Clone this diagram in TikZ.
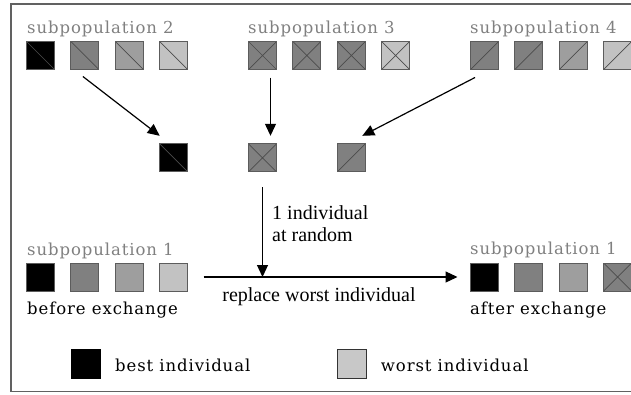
\documentclass[tikz,border=0pt]{standalone}
\usepackage{fontspec}
\setmainfont{Liberation Serif}
\newfontfamily\widefont[LetterSpace=5.5]{DejaVu Serif}
\usetikzlibrary{arrows.meta}

\definecolor{fitA}{gray}{0.0}
\definecolor{fitB}{gray}{0.50}
\definecolor{fitC}{gray}{0.62}
\definecolor{fitD}{gray}{0.76}
\definecolor{edgegray}{gray}{0.36}
\definecolor{diaggray}{gray}{0.30}
\definecolor{labelgray}{gray}{0.50}
\definecolor{framegray}{gray}{0.38}

\tikzset{
  indiv/.style={draw=edgegray, line width=1pt, minimum size=28pt, inner sep=0pt, outer sep=0pt},
  dback/.style={path picture={\draw[diaggray, line width=0.7pt]
      (path picture bounding box.north west) -- (path picture bounding box.south east);}},
  dfwd/.style={path picture={\draw[diaggray, line width=0.7pt]
      (path picture bounding box.south west) -- (path picture bounding box.north east);}},
  dcross/.style={path picture={\draw[diaggray, line width=0.7pt]
      (path picture bounding box.north west) -- (path picture bounding box.south east)
      (path picture bounding box.south west) -- (path picture bounding box.north east);}},
  poplabel/.style={anchor=base west, inner sep=0pt, text=labelgray, font=\widefont\fontsize{16.5pt}{20pt}\selectfont},
  txtlabel/.style={anchor=base west, inner sep=0pt, text=black, font=\widefont\fontsize{16.5pt}{20pt}\selectfont},
  midlabel/.style={anchor=base west, inner sep=0pt, text=black, font=\fontsize{20pt}{24pt}\selectfont},
  arr/.style={line width=1.2pt, -{Triangle[length=12pt,width=11pt]}},
  legbox/.style={line width=1pt, minimum size=29pt, inner sep=0pt, outer sep=0pt},
}

\begin{document}
\begin{tikzpicture}[x=1pt, y=-1pt]
\useasboundingbox (0,0) rectangle (631,394);
\clip (0,0) rectangle (631,394);

% outer frame (runs past the right edge)
\draw[framegray, line width=1.5pt] (650,4) -- (11,4) -- (11,391.5) -- (650,391.5);

% subpopulation 2
\node[poplabel] (t2) at (27,33.3) {subpopulation 2};
\node[indiv, fill=fitA, dback] (s2a) at (40.5,55.5) {};
\node[indiv, fill=fitB, dback] (s2b) at (84.9,55.5) {};
\node[indiv, fill=fitC, dback] (s2c) at (129.3,55.5) {};
\node[indiv, fill=fitD, dback] (s2d) at (173.7,55.5) {};

% subpopulation 3
\node[poplabel] (t3) at (248,33.3) {subpopulation 3};
\node[indiv, fill=fitB, dcross] (s3a) at (262.5,55.5) {};
\node[indiv, fill=fitB, dcross] (s3b) at (306.9,55.5) {};
\node[indiv, fill=fitB, dcross] (s3c) at (351.3,55.5) {};
\node[indiv, fill=fitD, dcross] (s3d) at (395.7,55.5) {};

% subpopulation 4
\node[poplabel] (t4) at (470,33.3) {subpopulation 4};
\node[indiv, fill=fitB, dfwd] (s4a) at (484.5,55.5) {};
\node[indiv, fill=fitB, dfwd] (s4b) at (528.9,55.5) {};
\node[indiv, fill=fitC, dfwd] (s4c) at (573.3,55.5) {};
\node[indiv, fill=fitD, dfwd] (s4d) at (617.7,55.5) {};

% chosen individuals
\node[indiv, fill=fitA, dback] (m1) at (173.7,157.8) {};
\node[indiv, fill=fitB, dcross] (m2) at (262.5,157.8) {};
\node[indiv, fill=fitB, dfwd] (m3) at (351.3,157.8) {};

\draw[arr] ([shift={(-2pt,-7pt)}]s2b.south) -- ([yshift=8pt]m1.north west);
\draw[arr] ([shift={(8pt,-8pt)}]s3a.south) -- ([shift={(8pt,8pt)}]m2.north);
\draw[arr] ([shift={(-9.5pt,-8pt)}]s4a.south) -- ([shift={(-3pt,8pt)}]m3.north east);

% subpopulation 1 before exchange
\node[poplabel] (t1l) at (27,255) {subpopulation 1};
\node[indiv, fill=fitA] (l1) at (40.5,277) {};
\node[indiv, fill=fitB] (l2) at (84.9,277) {};
\node[indiv, fill=fitC] (l3) at (129.3,277) {};
\node[indiv, fill=fitD] (l4) at (173.7,277) {};
\node[txtlabel] (before) at (27,314.5) {before exchange};

% subpopulation 1 after exchange
\node[poplabel] (t1r) at (470,254) {subpopulation 1};
\node[indiv, fill=fitA] (r1) at (484.5,277) {};
\node[indiv, fill=fitB] (r2) at (528.9,277) {};
\node[indiv, fill=fitC] (r3) at (573.3,277) {};
\node[indiv, fill=fitB, dcross] (r4) at (617.7,277) {};
\node[txtlabel] (after) at (470,314.5) {after exchange};

% exchange step
\draw[arr] ([xshift=16pt]l4.east) -- ([xshift=-13pt]r1.west);
\draw[arr] ([yshift=-15.5pt]m2.south) -- (m2.center |- l1.center);
\node[midlabel] (rand1) at (272,219) {1 individual};
\node[midlabel] (rand2) at (272,241) {at random};
\node[midlabel, anchor=base] (repl) at (319,301) {replace worst individual};

% legend
\node[legbox, draw=black, fill=black] (kbest) at (85.7,364) {};
\node[txtlabel] (kbestt) at (115,371.7) {best individual};
\node[legbox, draw=black!80, fill=fitD!90!white] (kworst) at (351.7,364) {};
\node[txtlabel] (kworstt) at (380.7,371.7) {worst individual};
\end{tikzpicture}
\end{document}
